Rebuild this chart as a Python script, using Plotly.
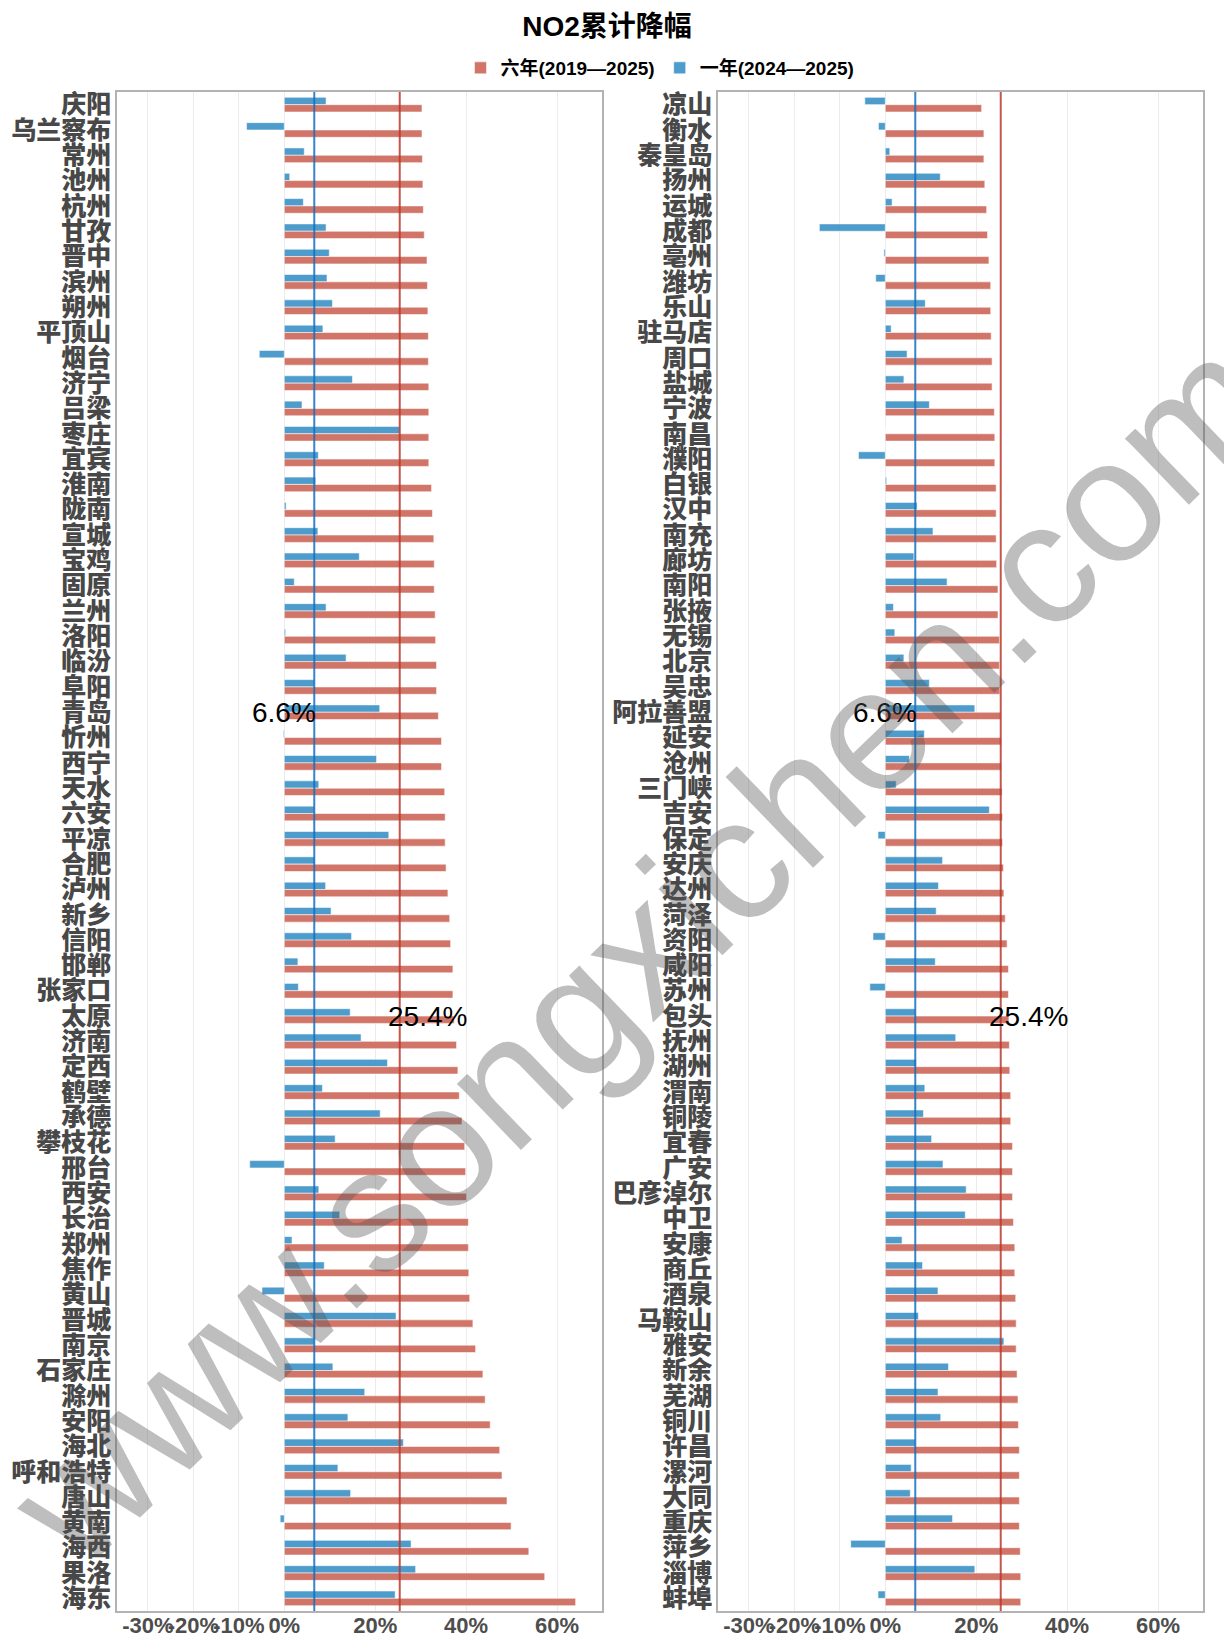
import plotly.graph_objects as go

# ---------------- data ----------------
left_cities = ["庆阳", "乌兰察布", "常州", "池州", "杭州", "甘孜", "晋中", "滨州", "朔州", "平顶山",
               "烟台", "济宁", "吕梁", "枣庄", "宜宾", "淮南", "陇南", "宣城", "宝鸡", "固原",
               "兰州", "洛阳", "临汾", "阜阳", "青岛", "忻州", "西宁", "天水", "六安", "平凉",
               "合肥", "泸州", "新乡", "信阳", "邯郸", "张家口", "太原", "济南", "定西", "鹤壁",
               "承德", "攀枝花", "邢台", "西安", "长治", "郑州", "焦作", "黄山", "晋城", "南京",
               "石家庄", "滁州", "安阳", "海北", "呼和浩特", "唐山", "黄南", "海西", "果洛", "海东"]
left_six = [30.3, 30.3, 30.4, 30.5, 30.6, 30.8, 31.4, 31.5, 31.6, 31.7,
            31.7, 31.8, 31.8, 31.8, 31.8, 32.4, 32.6, 32.9, 33.0, 33.0,
            33.2, 33.3, 33.5, 33.5, 33.9, 34.6, 34.6, 35.3, 35.4, 35.4,
            35.6, 36.0, 36.4, 36.6, 37.1, 37.1, 37.4, 37.9, 38.2, 38.5,
            39.1, 39.7, 39.9, 40.1, 40.5, 40.5, 40.6, 40.8, 41.5, 42.1,
            43.7, 44.2, 45.3, 47.4, 47.9, 49.0, 49.9, 53.8, 57.3, 64.1]
left_one = [9.2, -8.3, 4.4, 1.2, 4.2, 9.2, 9.9, 9.4, 10.6, 8.5,
            -5.5, 15.0, 3.9, 25.4, 7.5, 6.9, 0.4, 7.4, 16.5, 2.2,
            9.2, 0.3, 13.6, 6.6, 21.0, -0.2, 20.3, 7.6, 6.6, 23.0,
            6.7, 9.1, 10.3, 14.8, 3.0, 3.1, 14.5, 16.9, 22.7, 8.4,
            21.1, 11.2, -7.6, 7.6, 12.2, 1.7, 8.8, -4.9, 24.6, 6.6,
            10.7, 17.7, 14.0, 26.2, 11.8, 14.6, -0.9, 27.9, 28.9, 24.4]

right_cities = ["凉山", "衡水", "秦皇岛", "扬州", "运城", "成都", "亳州", "潍坊", "乐山", "驻马店",
                "周口", "盐城", "宁波", "南昌", "濮阳", "白银", "汉中", "南充", "廊坊", "南阳",
                "张掖", "无锡", "北京", "吴忠", "阿拉善盟", "延安", "沧州", "三门峡", "吉安", "保定",
                "安庆", "达州", "菏泽", "资阳", "咸阳", "苏州", "包头", "抚州", "湖州", "渭南",
                "铜陵", "宜春", "广安", "巴彦淖尔", "中卫", "安康", "商丘", "酒泉", "马鞍山", "雅安",
                "新余", "芜湖", "铜川", "许昌", "漯河", "大同", "重庆", "萍乡", "淄博", "蚌埠"]
right_six = [21.2, 21.7, 21.7, 21.9, 22.3, 22.5, 22.8, 23.2, 23.2, 23.3,
             23.5, 23.5, 24.0, 24.1, 24.1, 24.4, 24.4, 24.4, 24.5, 24.8,
             24.8, 25.1, 25.1, 25.2, 25.4, 25.5, 25.5, 25.7, 25.8, 25.8,
             26.0, 26.1, 26.4, 26.8, 27.1, 27.1, 27.2, 27.3, 27.4, 27.6,
             27.6, 28.0, 28.0, 28.0, 28.2, 28.5, 28.5, 28.7, 28.8, 28.8,
             29.0, 29.2, 29.3, 29.5, 29.5, 29.5, 29.5, 29.7, 29.8, 29.8]
right_one = [-4.5, -1.5, 1.0, 12.1, 1.5, -14.5, -0.3, -2.1, 8.8, 1.3,
             4.8, 4.1, 9.7, 0.0, -5.9, 0.3, 7.0, 10.5, 6.3, 13.6,
             1.8, 2.1, 4.1, 9.7, 19.7, 8.6, 5.3, 2.4, 22.9, -1.6,
             12.6, 11.7, 11.2, -2.7, 11.0, -3.4, 6.6, 15.5, 6.8, 8.7,
             8.4, 10.2, 12.7, 17.8, 17.6, 3.7, 8.2, 11.6, 7.3, 26.1,
             13.9, 11.6, 12.2, 6.6, 5.7, 5.5, 14.8, -7.6, 19.7, -1.6]

mean_one = 6.6
mean_six = 25.4
tick_vals = [-30, -20, -10, 0, 20, 40, 60]
tick_text = ["-30%", "-20%", "-10%", "0%", "20%", "40%", "60%"]
name_six = "六年(2019—2025)"
name_one = "一年(2024—2025)"
title_text = "NO2累计降幅"
watermark = "www.songxichen.com"

# ---------------- layout helpers (page coordinates; body margin removed) ----------------
W, H = 1224, 1638


def px(x):
    return x / W


def py(y):
    return 1 - y / H


# ---------------- styles ----------------
RED = "rgba(205,105,92,0.92)"
BLUE = "rgba(62,148,200,0.92)"
RED_LINE = "rgba(185,55,45,0.85)"
BLUE_LINE = "rgba(20,110,190,0.85)"
FONT = "Liberation Sans, Arial, Noto Sans CJK SC, sans-serif"
EDGE = dict(color="rgba(255,255,255,0.55)", width=1)

fig = go.Figure()

panels = [
    ("x", "y", left_cities, left_six, left_one, True),
    ("x2", "y2", right_cities, right_six, right_one, False),
]
for xa, ya, cats, six, one, show in panels:
    fig.add_trace(go.Bar(y=cats, x=one, orientation="h", name=name_one,
                         marker=dict(color=BLUE, line=EDGE), xaxis=xa, yaxis=ya,
                         showlegend=show, legendgroup="one", legendrank=2))
    fig.add_trace(go.Bar(y=cats, x=six, orientation="h", name=name_six,
                         marker=dict(color=RED, line=EDGE), xaxis=xa, yaxis=ya,
                         showlegend=show, legendgroup="six", legendrank=1))
    for val, col in ((mean_one, BLUE_LINE), (mean_six, RED_LINE)):
        fig.add_shape(type="line", xref=xa, yref=ya + " domain", x0=val, x1=val,
                      y0=0, y1=1, line=dict(color=col, width=2), layer="above")
    fig.add_annotation(x=mean_one - 6.6, y=24, xref=xa, yref=ya,
                       text=f"{mean_one}%", showarrow=False,
                       font=dict(family=FONT, size=28, color="black"))
    fig.add_annotation(x=mean_six + 6.1, y=36, xref=xa, yref=ya,
                       text=f"{mean_six}%", showarrow=False,
                       font=dict(family=FONT, size=28, color="black"))

xcommon = dict(range=[-36.8, 69.9], tickmode="array", tickvals=tick_vals, ticktext=tick_text,
               tickangle=0, automargin=False, ticklabelstandoff=-6,
               showgrid=True, gridcolor="#ececec", gridwidth=1, zeroline=False,
               showline=True, mirror=True, linecolor="#b3b3b3", linewidth=1.5,
               ticks="", tickfont=dict(family=FONT, size=22, color="#4d4d4d", weight="bold"),
               fixedrange=True)
ycommon = dict(type="category", range=[59.5, -0.5], showgrid=False, zeroline=False,
               showline=True, mirror=True, linecolor="#b3b3b3", linewidth=1.5,
               ticks="", ticklabelstandoff=-1, tickangle=0,
               tickfont=dict(family=FONT, size=25, color="#484848", weight=900),
               domain=[py(1611), py(92)], automargin=False, fixedrange=True)

fig.update_layout(
    width=W, height=H,
    margin=dict(l=0, r=0, t=0, b=0, autoexpand=False),
    paper_bgcolor="white", plot_bgcolor="white",
    barmode="group", bargap=0.42, bargroupgap=0.0,
    xaxis=dict(domain=[px(117), px(602)], anchor="y", **xcommon),
    xaxis2=dict(domain=[px(718), px(1203)], anchor="y2", **xcommon),
    yaxis=dict(anchor="x", tickmode="array", tickvals=left_cities, ticktext=left_cities, **ycommon),
    yaxis2=dict(anchor="x2", tickmode="array", tickvals=right_cities, ticktext=right_cities, **ycommon),
    title=dict(text=title_text, x=px(607), xanchor="center", y=py(26), yanchor="middle",
               font=dict(family=FONT, size=28, color="black", weight="bold")),
    legend=dict(orientation="h", x=px(660), xanchor="center", y=py(68), yanchor="middle",
                font=dict(family=FONT, size=19, color="black", weight="bold"),
                itemwidth=30, traceorder="normal", bgcolor="rgba(0,0,0,0)"),
    showlegend=True,
)

fig.add_annotation(text=watermark, xref="paper", yref="paper", x=px(640), y=py(950),
                   showarrow=False, textangle=-44,
                   font=dict(family="Liberation Sans, Arial, sans-serif", size=174,
                             color="rgba(85,85,85,0.38)"))

fig.write_html("out.html", config={"displayModeBar": False},
               post_script="document.body.style.margin='0';document.body.style.padding='0';"
                           "document.documentElement.style.overflow='hidden';")
